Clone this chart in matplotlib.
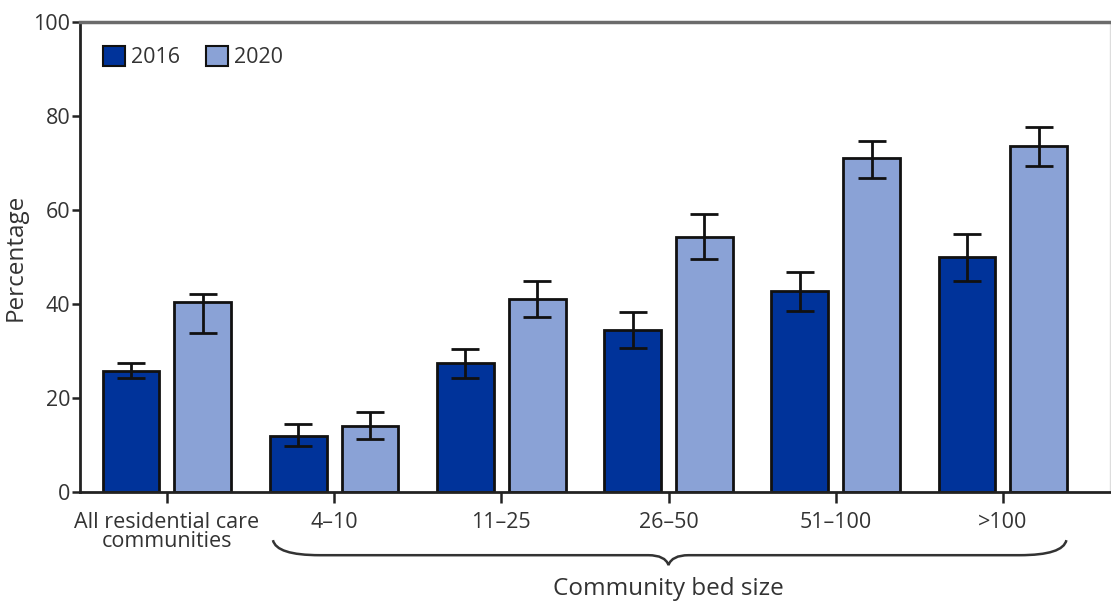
import matplotlib
matplotlib.use('Agg')
import matplotlib.pyplot as plt
from matplotlib.path import Path
from matplotlib.patches import PathPatch, Patch
from matplotlib.transforms import blended_transform_factory
import numpy as np

# Residential care communities, percentage by bed size
categories = ["All residential care\ncommunities", "4\u201310", "11\u201325",
              "26\u201350", "51\u2013100", ">100"]
years = ["2016", "2020"]
pct_2016 = [25.8, 12.0, 27.4, 34.5, 42.8, 50.0]
pct_2020 = [40.5, 14.0, 41.2, 54.4, 71.1, 73.7]
ci_2016_low = [24.3, 9.8, 24.3, 30.6, 38.6, 45.0]
ci_2016_high = [27.6, 14.5, 30.4, 38.3, 46.8, 54.9]
ci_2020_low = [33.8, 11.3, 37.3, 49.6, 66.9, 69.5]
ci_2020_high = [42.2, 17.0, 44.9, 59.1, 74.7, 77.7]
bed_size_label = "Community bed size"

plt.rcParams['font.family'] = ['Open Sans', 'DejaVu Sans']
text_color = '#333333'
dark_blue = '#00339a'
light_blue = '#8aa2d6'
tick_size = 15.5
label_size = 17.5

fig = plt.figure(figsize=(11.11, 6.01), dpi=100)
ax = fig.add_axes([0.072, 0.181, 0.927, 0.782])

x = np.arange(len(categories))
width = 0.34
offset = 0.215

def yerr(vals, lo, hi):
    vals, lo, hi = map(np.asarray, (vals, lo, hi))
    return np.vstack([vals - lo, hi - vals])

err_kw = dict(ecolor='#111111', elinewidth=2, capsize=10, capthick=2)
ax.bar(x - offset, pct_2016, width, color=dark_blue, edgecolor='#111111',
       linewidth=2, yerr=yerr(pct_2016, ci_2016_low, ci_2016_high),
       error_kw=err_kw, zorder=2)
ax.bar(x + offset, pct_2020, width, color=light_blue, edgecolor='#111111',
       linewidth=2, yerr=yerr(pct_2020, ci_2020_low, ci_2020_high),
       error_kw=err_kw, zorder=2)

ax.set_xlim(-0.52, 5.64)
ax.set_ylim(0, 100)
ax.set_yticks([0, 20, 40, 60, 80, 100])
ax.set_xticks(x)
ax.set_xticklabels(categories, fontsize=tick_size, color=text_color, linespacing=0.9)
ax.tick_params(axis='y', direction='out', length=6, width=1.8, colors='#222222',
               labelsize=tick_size, labelcolor=text_color, pad=1)
ax.tick_params(axis='x', direction='out', length=8, width=1.8, colors='#222222',
               labelsize=tick_size, labelcolor=text_color, pad=6)
ax.set_ylabel("Percentage", fontsize=label_size, color=text_color, labelpad=4)

for side in ['left', 'bottom']:
    ax.spines[side].set_linewidth(2)
    ax.spines[side].set_color('#222222')
ax.spines['top'].set_linewidth(2.5)
ax.spines['top'].set_color('#6b6b6b')
ax.spines['right'].set_linewidth(1)
ax.spines['right'].set_color('#dddddd')

# Legend
handles = [Patch(facecolor=dark_blue, edgecolor='#111111', linewidth=1.5, label=years[0]),
           Patch(facecolor=light_blue, edgecolor='#111111', linewidth=1.5, label=years[1])]
leg = ax.legend(handles=handles, loc='upper left', ncol=2, frameon=False,
                fontsize=tick_size, handlelength=1.0, handleheight=1.0,
                handletextpad=0.3, columnspacing=1.2,
                bbox_to_anchor=(0.004, 0.99))
for t in leg.get_texts():
    t.set_color(text_color)

# Curly brace under the bed-size groups
trans = blended_transform_factory(ax.transData, ax.transAxes)
x0, x1 = 0.634, 5.38
xm = (1 + len(categories) - 1) / 2
y_top, y_line, y_tip = -0.102, -0.134, -0.155
r = 0.28
verts = [(x0, y_top), (x0 + 0.02, y_line), (x0 + r, y_line),
         (xm - 0.12, y_line), (xm - 0.02, y_line), (xm, y_tip),
         (xm + 0.02, y_line), (xm + 0.12, y_line),
         (x1 - r, y_line), (x1 - 0.02, y_line), (x1, y_top)]
codes = [Path.MOVETO, Path.CURVE3, Path.CURVE3,
         Path.LINETO, Path.CURVE3, Path.CURVE3,
         Path.CURVE3, Path.CURVE3,
         Path.LINETO, Path.CURVE3, Path.CURVE3]
brace = PathPatch(Path(verts, codes), transform=trans, facecolor='none',
                  edgecolor='#333333', linewidth=1.8, clip_on=False)
ax.add_patch(brace)
ax.text(xm, -0.205, bed_size_label, transform=trans, ha='center', va='center',
        fontsize=label_size, color=text_color)

fig.savefig('out.png', dpi=100)
